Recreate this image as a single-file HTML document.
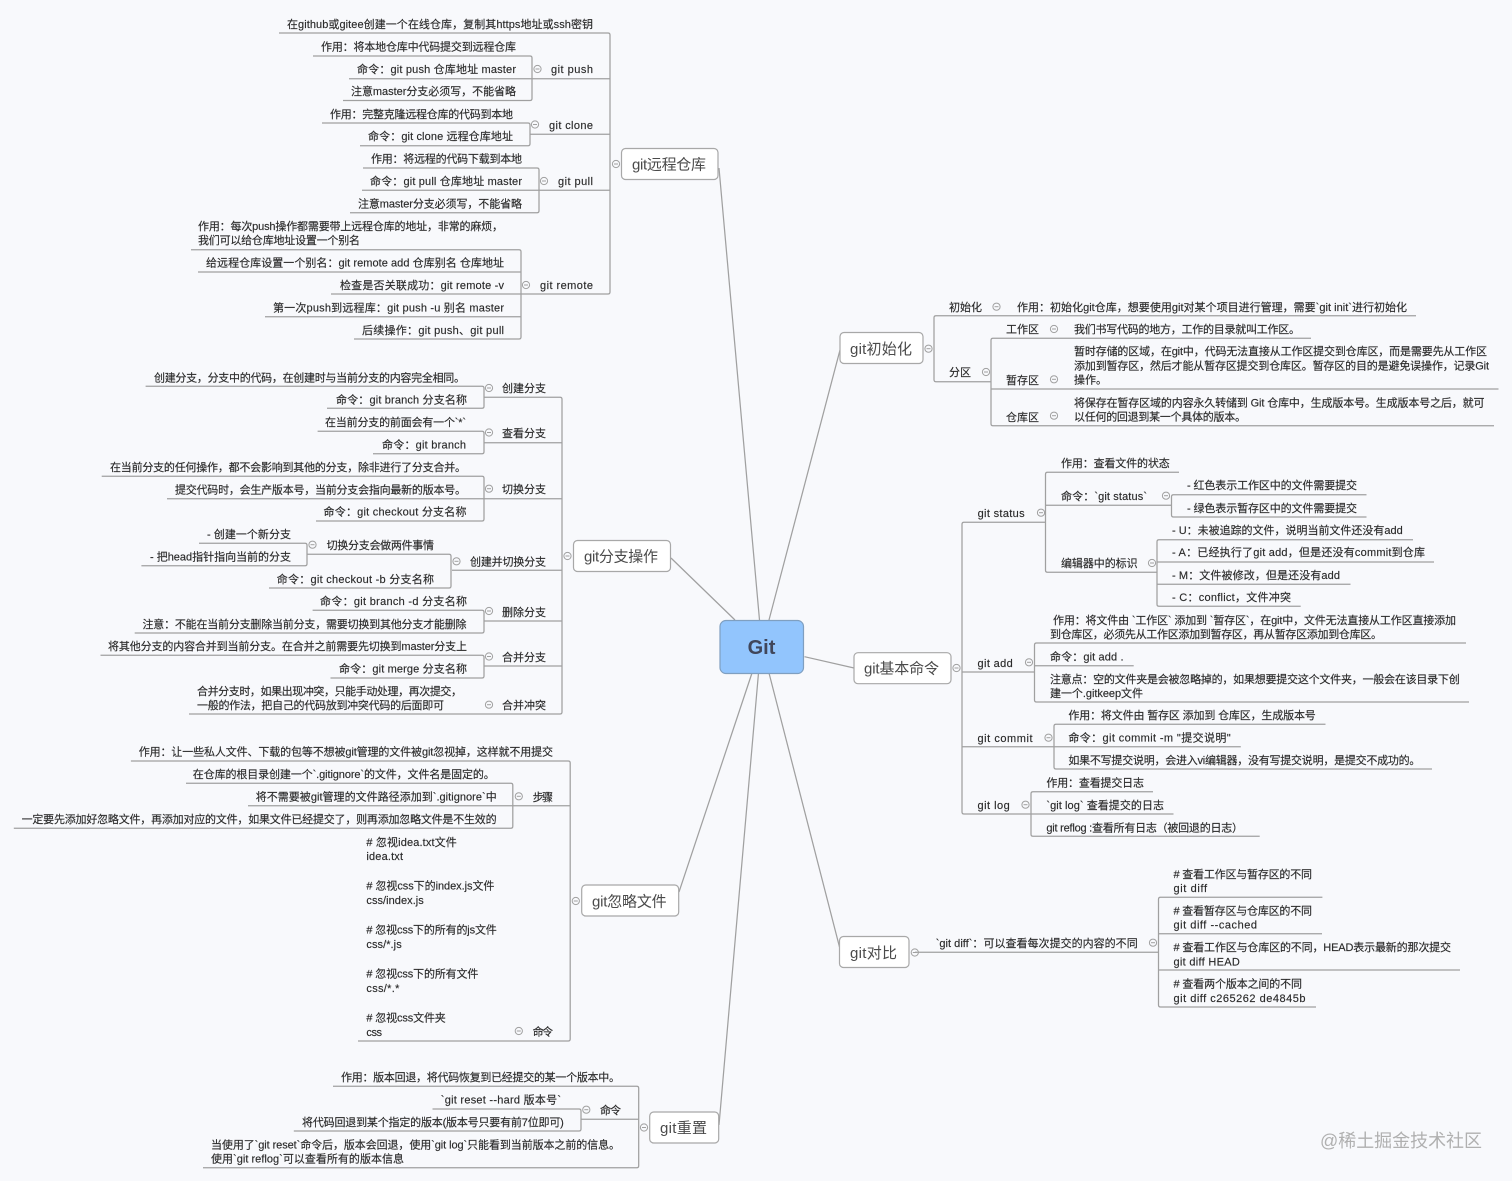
<!DOCTYPE html>
<html lang="zh-CN"><head><meta charset="utf-8"><title>Git</title>
<style>
html,body{margin:0;padding:0;background:#f8f9fc;width:1512px;height:1181px;overflow:hidden}
svg{display:block}
text{font-family:"Liberation Sans","Noto Sans CJK SC",sans-serif;font-size:11px;fill:#2a2a2a;stroke:#2a2a2a;stroke-width:.15}
.b{font-size:15px;fill:#4a4a4a;stroke:none}
.l{fill:none;stroke:#a0a0a0;stroke-width:1.25}
.box{fill:#fff;stroke:#a8a8a8;stroke-width:1.2}
.m{fill:none;stroke:#a0a0a0;stroke-width:1}
</style></head><body>
<svg xmlns="http://www.w3.org/2000/svg" width="1512" height="1181" viewBox="0 0 1512 1181">
<defs><g id="c" class="m"><circle r="3.6"/><path d="M-2 0H2"/></g></defs>

<g class="l">
<!-- central connectors -->
<path d="M759.5 620L719 168M735 620L671 558M769 620L840 350M804.5 656.7L854 668M769 673L839.5 947M752 673L679 892M758.5 673L719 1125"/>
<!-- remote -->
<path d="M279 33H608Q610 33 610 35V292Q610 294 608 294H331"/>
<path d="M349 78.7H610M530 134.3H610M362 190.3H610"/>
<path d="M313 56H530Q532 56 532 58V98.5Q532 100.5 530 100.5H343"/>
<path d="M322 123H528Q530 123 530 125V143.7Q530 145.7 528 145.7H360"/>
<path d="M363 168H537Q539 168 539 170V210.7Q539 212.7 537 212.7H350"/>
<path d="M191 249.7H519Q521 249.7 521 251.7V337Q521 339 519 339H354"/>
<path d="M198 272H521M265 316.7H521"/>
<!-- branch -->
<path d="M484 397.3H560Q562 397.3 562 399.3V712Q562 714 560 714H189"/>
<path d="M145.6 386.3H482Q484 386.3 484 388.3V406.3Q484 408.3 482 408.3H327"/>
<path d="M484 442.7H562M484 498.7H562M452 570.3H562M484 621H562M484 666H562"/>
<path d="M317.6 431.3H482Q484 431.3 484 433.3V451.7Q484 453.7 482 453.7H373"/>
<path d="M101.7 476.3H482Q484 476.3 484 478.3V519Q484 521 482 521H316M167 498.7H484"/>
<path d="M307 554.3H449Q451 554.3 451 556.3V586Q451 588 449 588H269"/>
<path d="M199 543.3H305Q307 543.3 307 545.3V563.7Q307 565.7 305 565.7H141.4"/>
<path d="M312.6 610.3H482Q484 610.3 484 612.3V631Q484 633 482 633H134.7"/>
<path d="M100.5 655.3H482Q484 655.3 484 657.3V676Q484 678 482 678H330.5"/>
<!-- init -->
<path d="M1416 315.7H936Q934 315.7 934 317.7V379.7Q934 381.7 936 381.7H991"/>
<path d="M1311 338.3H993Q991 338.3 991 340.3V423.7Q991 425.7 993 425.7H1494M991 389H1498.5"/>
<!-- basic -->
<path d="M1046 522.3H964Q962 522.3 962 524.3V812Q962 814 964 814H1173.5"/>
<path d="M1179 472.3H1047.5Q1045.5 472.3 1045.5 474.3V570.3Q1045.5 572.3 1047.5 572.3H1157M1045.5 505.3H1171.5"/>
<path d="M1366.5 494.7H1173.5Q1171.5 494.7 1171.5 496.7V515Q1171.5 517 1173.5 517H1366.5"/>
<path d="M1413 539.7H1159Q1157 539.7 1157 541.7V604.3Q1157 606.3 1159 606.3H1300.7M1157 562H1434M1157 584.3H1350.5"/>
<path d="M962 672H1034.5M962 746.7H1240.8"/>
<path d="M1466 643H1036.5Q1034.5 643 1034.5 645V700Q1034.5 702 1036.5 702H1469M1034.5 665.7H1133.7"/>
<path d="M1325.5 724.3H1056Q1054 724.3 1054 726.3V767Q1054 769 1056 769H1432"/>
<path d="M1153 791.7H1033Q1031 791.7 1031 793.7V834.3Q1031 836.3 1033 836.3H1259.7"/>
<!-- diff -->
<path d="M915 952.3H1158.5"/>
<path d="M1322.4 897.3H1160.5Q1158.5 897.3 1158.5 899.3V1005Q1158.5 1007 1160.5 1007H1316M1158.5 933.7H1322M1158.5 970H1460"/>
<!-- ignore -->
<path d="M130.9 761H568.2Q570.2 761 570.2 763V1039Q570.2 1041 568.2 1041H358"/>
<path d="M248 805.7H570.2"/>
<path d="M186 783.3H510.8Q512.8 783.3 512.8 785.3V826.3Q512.8 828.3 510.8 828.3H13.8"/>
<!-- reset -->
<path d="M333 1086.3H636.7Q638.7 1086.3 638.7 1088.3V1165.7Q638.7 1167.7 636.7 1167.7H203M581 1119.3H638.7"/>
<path d="M432.5 1109H579Q581 1109 581 1111V1129Q581 1131 579 1131H293.8"/>
</g>

<!-- boxes -->
<rect x="720" y="620.5" width="83.5" height="53" rx="6" fill="#92c5fd" stroke="#7f9fc0" stroke-width="1.2"/>
<rect class="box" x="621.5" y="148.5" width="96.5" height="31" rx="4"/>
<rect class="box" x="573.5" y="540.5" width="97" height="31" rx="4"/>
<rect class="box" x="840" y="332.5" width="83" height="31" rx="4"/>
<rect class="box" x="854" y="652.7" width="97" height="31" rx="4"/>
<rect class="box" x="839.5" y="936.5" width="69.5" height="31" rx="4"/>
<rect class="box" x="581.7" y="885" width="97" height="31" rx="4"/>
<rect class="box" x="649.7" y="1112" width="69" height="31" rx="4"/>

<!-- collapse circles -->
<use href="#c" x="616" y="164"/><use href="#c" x="537.5" y="69"/><use href="#c" x="535" y="124.5"/><use href="#c" x="544" y="181"/><use href="#c" x="526" y="285"/>
<use href="#c" x="567.5" y="556"/><use href="#c" x="489" y="388"/><use href="#c" x="489" y="432.5"/><use href="#c" x="489" y="488.7"/><use href="#c" x="456.5" y="561.3"/><use href="#c" x="312.5" y="544.7"/><use href="#c" x="489" y="611"/><use href="#c" x="489" y="656.5"/><use href="#c" x="489" y="704.7"/>
<use href="#c" x="928.5" y="348.7"/><use href="#c" x="996.5" y="306.7"/><use href="#c" x="986" y="372"/><use href="#c" x="1054" y="329"/><use href="#c" x="1054" y="379.3"/><use href="#c" x="1054" y="415.7"/>
<use href="#c" x="956.5" y="668"/><use href="#c" x="1041" y="512.7"/><use href="#c" x="1166" y="495.7"/><use href="#c" x="1152" y="563"/><use href="#c" x="1029" y="662.3"/><use href="#c" x="1048.5" y="737.7"/><use href="#c" x="1025.5" y="804.7"/>
<use href="#c" x="914.8" y="952.5"/><use href="#c" x="1153" y="942.7"/>
<use href="#c" x="575.8" y="901"/><use href="#c" x="518.8" y="796.3"/><use href="#c" x="518.8" y="1031"/><use href="#c" x="644" y="1127.5"/><use href="#c" x="586.3" y="1109.7"/>

<!-- main labels -->
<text x="761.5" y="654" text-anchor="middle" style="font-size:20px;font-weight:bold;fill:#40465a;stroke:none">Git</text>
<text class="b" x="632" y="169.5" textLength="74">git远程仓库</text>
<text class="b" x="584" y="561.5" textLength="74">git分支操作</text>
<text class="b" x="850" y="354" textLength="62">git初始化</text>
<text class="b" x="864" y="673.5" textLength="75">git基本命令</text>
<text class="b" x="850" y="958" textLength="47">git对比</text>
<text class="b" x="592" y="906.5" textLength="74.7">git忽略文件</text>
<text class="b" x="660" y="1133" textLength="47">git重置</text>

<!-- remote -->
<text x="287" y="28" textLength="306">在github或gitee创建一个在线仓库，复制其https地址或ssh密钥</text>
<text x="321" y="50.5" textLength="195">作用：将本地仓库中代码提交到远程仓库</text>
<text x="357" y="73" textLength="159">命令：git push 仓库地址 master</text>
<text x="351" y="95" textLength="165">注意master分支必须写，不能省略</text>
<text x="551" y="73" textLength="42">git push</text>
<text x="330" y="118" textLength="183">作用：完整克隆远程仓库的代码到本地</text>
<text x="368" y="140" textLength="145">命令：git clone 远程仓库地址</text>
<text x="549" y="129" textLength="44">git clone</text>
<text x="371" y="162.5" textLength="151">作用：将远程的代码下载到本地</text>
<text x="370" y="185" textLength="152">命令：git pull 仓库地址 master</text>
<text x="358" y="207.5" textLength="164">注意master分支必须写，不能省略</text>
<text x="558" y="185" textLength="35">git pull</text>
<text x="198" y="230" textLength="305">作用：每次push操作都需要带上远程仓库的地址，非常的麻烦，</text>
<text x="198" y="244" textLength="162">我们可以给仓库地址设置一个别名</text>
<text x="206" y="266.5" textLength="298">给远程仓库设置一个别名：git remote add 仓库别名 仓库地址</text>
<text x="340" y="289" textLength="164">检查是否关联成功：git remote -v</text>
<text x="273" y="311.5" textLength="231">第一次push到远程库：git push -u 别名 master</text>
<text x="362" y="334" textLength="142">后续操作：git push、git pull</text>
<text x="540" y="289" textLength="53">git remote</text>

<!-- branch -->
<text x="154" y="381.5" textLength="311">创建分支，分支中的代码，在创建时与当前分支的内容完全相同。</text>
<text x="336" y="403.5" textLength="131">命令：git branch 分支名称</text>
<text x="502" y="392" textLength="44">创建分支</text>
<text x="325" y="426" textLength="141">在当前分支的前面会有一个`*`</text>
<text x="382" y="448.7" textLength="84">命令：git branch</text>
<text x="502" y="437" textLength="44">查看分支</text>
<text x="110" y="471" textLength="356">在当前分支的任何操作，都不会影响到其他的分支，除非进行了分支合并。</text>
<text x="175" y="493.7" textLength="291">提交代码时，会生产版本号，当前分支会指向最新的版本号。</text>
<text x="323.5" y="515.7" textLength="143">命令：git checkout 分支名称</text>
<text x="502" y="493" textLength="44">切换分支</text>
<text x="207" y="538" textLength="84">- 创建一个新分支</text>
<text x="150" y="560.7" textLength="141">- 把head指针指向当前的分支</text>
<text x="326.6" y="549" textLength="107.4">切换分支会做两件事情</text>
<text x="276.8" y="583" textLength="157.2">命令：git checkout -b 分支名称</text>
<text x="470" y="565.7" textLength="76">创建并切换分支</text>
<text x="320" y="605" textLength="147">命令：git branch -d 分支名称</text>
<text x="142.5" y="628" textLength="324">注意：不能在当前分支删除当前分支，需要切换到其他分支才能删除</text>
<text x="502" y="616" textLength="44">删除分支</text>
<text x="108" y="650" textLength="359">将其他分支的内容合并到当前分支。在合并之前需要先切换到master分支上</text>
<text x="339" y="672.7" textLength="128">命令：git merge 分支名称</text>
<text x="502" y="661" textLength="44">合并分支</text>
<text x="197" y="695" textLength="265">合并分支时，如果出现冲突，只能手动处理，再次提交，</text>
<text x="197" y="709" textLength="247">一般的作法，把自己的代码放到冲突代码的后面即可</text>
<text x="502" y="709" textLength="44">合并冲突</text>

<!-- init -->
<text x="949" y="311" textLength="33">初始化</text>
<text x="1017" y="311" textLength="390">作用：初始化git仓库，想要使用git对某个项目进行管理，需要`git init`进行初始化</text>
<text x="949" y="376" textLength="22">分区</text>
<text x="1006" y="333" textLength="33">工作区</text>
<text x="1074" y="333" textLength="226">我们书写代码的地方，工作的目录就叫工作区。</text>
<text x="1006" y="384" textLength="33">暂存区</text>
<text x="1074" y="355" textLength="413">暂时存储的区域，在git中，代码无法直接从工作区提交到仓库区，而是需要先从工作区</text>
<text x="1074" y="369.7" textLength="415">添加到暂存区，然后才能从暂存区提交到仓库区。暂存区的目的是避免误操作，记录Git</text>
<text x="1074" y="383.7" textLength="33">操作。</text>
<text x="1006" y="421" textLength="33">仓库区</text>
<text x="1074" y="406.7" textLength="410.5">将保存在暂存区域的内容永久转储到 Git 仓库中，生成版本号。生成版本号之后，就可</text>
<text x="1074" y="420.3" textLength="172">以任何的回退到某一个具体的版本。</text>

<!-- basic -->
<text x="977.6" y="517" textLength="47">git status</text>
<text x="1061" y="467" textLength="108.7">作用：查看文件的状态</text>
<text x="1061" y="500" textLength="86">命令：`git status`</text>
<text x="1187" y="489" textLength="170">- 红色表示工作区中的文件需要提交</text>
<text x="1187" y="512" textLength="170">- 绿色表示暂存区中的文件需要提交</text>
<text x="1061" y="567" textLength="76.6">编辑器中的标识</text>
<text x="1172" y="534" textLength="230.7">- U：未被追踪的文件，说明当前文件还没有add</text>
<text x="1172" y="556" textLength="253">- A：已经执行了git add，但是还没有commit到仓库</text>
<text x="1172" y="579" textLength="168">- M：文件被修改，但是还没有add</text>
<text x="1172" y="601" textLength="119">- C：conflict，文件冲突</text>
<text x="977.5" y="667" textLength="35.3">git add</text>
<text x="1053" y="624" textLength="403">作用：将文件由 `工作区` 添加到 `暂存区`，在git中，文件无法直接从工作区直接添加</text>
<text x="1050" y="638" textLength="332">到仓库区，必须先从工作区添加到暂存区，再从暂存区添加到仓库区。</text>
<text x="1050" y="660.7" textLength="73.5">命令：git add .</text>
<text x="1050" y="683" textLength="409.7">注意点：空的文件夹是会被忽略掉的，如果想要提交这个文件夹，一般会在该目录下创</text>
<text x="1050" y="697" textLength="93">建一个.gitkeep文件</text>
<text x="977.5" y="742" textLength="55">git commit</text>
<text x="1068.4" y="719" textLength="247.4">作用：将文件由 暂存区 添加到 仓库区，生成版本号</text>
<text x="1068.4" y="741.7" textLength="162.2">命令：git commit -m "提交说明"</text>
<text x="1068.4" y="764" textLength="352">如果不写提交说明，会进入vi编辑器，没有写提交说明，是提交不成功的。</text>
<text x="977.5" y="809" textLength="32.2">git log</text>
<text x="1046.4" y="786.7" textLength="97.6">作用：查看提交日志</text>
<text x="1046.4" y="809" textLength="117.6">`git log` 查看提交的日志</text>
<text x="1046.4" y="831.7" textLength="196.6">git reflog :查看所有日志（被回退的日志）</text>

<!-- diff -->
<text x="935.7" y="947" textLength="202">`git diff`：可以查看每次提交的内容的不同</text>
<text x="1173.5" y="878" textLength="138.5"># 查看工作区与暂存区的不同</text>
<text x="1173.5" y="892" textLength="33.5">git diff</text>
<text x="1173.5" y="914.3" textLength="138.5"># 查看暂存区与仓库区的不同</text>
<text x="1173.5" y="928.7" textLength="83.5">git diff --cached</text>
<text x="1173.5" y="951" textLength="277.5"># 查看工作区与仓库区的不同，HEAD表示最新的那次提交</text>
<text x="1173.5" y="965.3" textLength="66.3">git diff HEAD</text>
<text x="1173.5" y="987.3" textLength="128.5"># 查看两个版本之间的不同</text>
<text x="1173.5" y="1002" textLength="132">git diff c265262 de4845b</text>

<!-- ignore -->
<text x="138.7" y="755.7" textLength="414.3">作用：让一些私人文件、下载的包等不想被git管理的文件被git忽视掉，这样就不用提交</text>
<text x="192.8" y="778" textLength="302">在仓库的根目录创建一个`.gitignore`的文件，文件名是固定的。</text>
<text x="255.7" y="800.7" textLength="241">将不需要被git管理的文件路径添加到`.gitignore`中</text>
<text x="21.6" y="823" textLength="475">一定要先添加好忽略文件，再添加对应的文件，如果文件已经提交了，则再添加忽略文件是不生效的</text>
<text x="532.6" y="801" textLength="20.4">步骤</text>
<text x="532.6" y="1035.5" textLength="20.4">命令</text>
<text x="366.4" y="846" textLength="90.4"># 忽视idea.txt文件</text>
<text x="366.4" y="860" textLength="36.6">idea.txt</text>
<text x="366.4" y="889.7" textLength="128"># 忽视css下的index.js文件</text>
<text x="366.4" y="904" textLength="57.4">css/index.js</text>
<text x="366.4" y="933.7" textLength="130.4"># 忽视css下的所有的js文件</text>
<text x="366.4" y="948" textLength="35.3">css/*.js</text>
<text x="366.4" y="977.7" textLength="112"># 忽视css下的所有文件</text>
<text x="366.4" y="992" textLength="33">css/*.*</text>
<text x="366.4" y="1021.7" textLength="79.4"># 忽视css文件夹</text>
<text x="366.4" y="1036" textLength="15.6">css</text>

<!-- reset -->
<text x="341" y="1081" textLength="279">作用：版本回退，将代码恢复到已经提交的某一个版本中。</text>
<text x="440.8" y="1103.7" textLength="120.2">`git reset --hard 版本号`</text>
<text x="302" y="1126" textLength="261.8">将代码回退到某个指定的版本(版本号只要有前7位即可)</text>
<text x="600" y="1114" textLength="21">命令</text>
<text x="211" y="1148.7" textLength="409">当使用了`git reset`命令后，版本会回退，使用`git log`只能看到当前版本之前的信息。</text>
<text x="211" y="1162.7" textLength="193">使用`git reflog`可以查看所有的版本信息</text>

<text x="1320" y="1147" textLength="162" style="font-size:18px;fill:#b0b0b0;stroke:none">@稀土掘金技术社区</text>
</svg>
</body></html>
